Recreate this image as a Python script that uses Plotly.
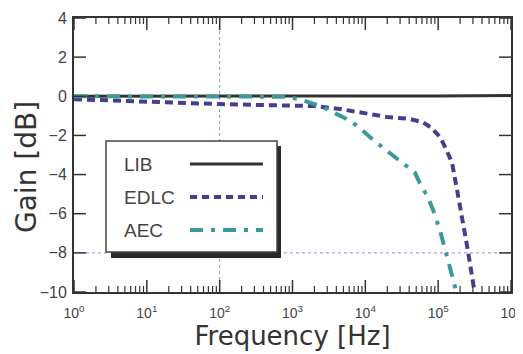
import plotly.graph_objects as go

# ---- data ----
lib_freq = [1, 10, 100, 1000, 10000, 100000, 1000000]
lib_gain = [0.0, 0.0, 0.0, 0.0, 0.0, 0.02, 0.04]

edlc_freq = [1, 3.2, 10, 32, 100, 320, 1000, 2000, 4500, 8500, 2.0e4, 4.0e4,
             6.2e4, 8.0e4, 1.07e5, 1.32e5, 1.55e5, 1.82e5, 2.14e5, 2.51e5, 3.02e5, 3.16e5]
edlc_gain = [-0.15, -0.22, -0.28, -0.33, -0.40, -0.44, -0.46, -0.50, -0.65, -0.82, -1.06, -1.15,
             -1.33, -1.60, -2.10, -2.80, -3.40, -4.80, -6.20, -7.70, -9.55, -10.0]

aec_freq = [1, 10, 100, 316, 800, 1260, 1900, 2630, 4000, 6200, 8900, 1.17e4, 2.0e4, 3.0e4,
            4.0e4, 4.8e4, 5.6e4, 7.1e4, 8.5e4, 1.05e5, 1.26e5, 1.48e5, 1.7e5, 1.78e5]
aec_gain = [0.0, 0.0, 0.0, 0.0, -0.02, -0.15, -0.35, -0.55, -0.90, -1.25, -1.70, -2.10, -2.80, -3.30,
            -3.65, -3.90, -4.45, -5.10, -5.80, -6.80, -7.90, -8.90, -9.75, -10.0]

series_names = ["LIB", "EDLC", "AEC"]
x_tickvals = [1, 10, 100, 1000, 10000, 100000, 1000000]
x_ticktext = ["10<sup>0</sup>", "10<sup>1</sup>", "10<sup>2</sup>", "10<sup>3</sup>",
              "10<sup>4</sup>", "10<sup>5</sup>", "10<sup>6</sup>"]
y_tickvals = [4, 2, 0, -2, -4, -6, -8, -10]

# ---- styles ----
C_LIB = "#333333"
C_EDLC = "#433f8e"
C_AEC = "#3f9898"
GRID = "#8c8ce0"
AX = "#333333"
FONT = "Liberation Sans, Arial, sans-serif"
TFONT = "DejaVu Sans, sans-serif"

# page layout (the figure sits 8px in from the page corner)
OFF = 8
W, H = 523, 354
ml, mt = 74 - OFF, 18 - OFF
mr = W - (511 - OFF)
mb = H - (292 - OFF)
pw, ph = W - ml - mr, H - mt - mb

def px(x):
    return (x - OFF - ml) / pw

def py(y):
    return 1 - (y - OFF - mt) / ph

fig = go.Figure()
fig.add_trace(go.Scatter(x=lib_freq, y=lib_gain, mode="lines", name=series_names[0],
                         line=dict(color=C_LIB, width=3), showlegend=False))
fig.add_trace(go.Scatter(x=edlc_freq, y=edlc_gain, mode="lines", name=series_names[1],
                         line=dict(color=C_EDLC, width=4, dash="8px,5px"), showlegend=False))
fig.add_trace(go.Scatter(x=aec_freq, y=aec_gain, mode="lines", name=series_names[2],
                         line=dict(color=C_AEC, width=4, dash="13px,8px,4px,8px"), showlegend=False))

# dotted reference grid lines (x = 10^2, y = -8)
fig.add_shape(type="line", xref="x", yref="paper", x0=100, x1=100, y0=0, y1=1,
              line=dict(color=GRID, width=1, dash="dot"), layer="below")
fig.add_shape(type="line", xref="paper", yref="y", x0=0, x1=1, y0=-8, y1=-8,
              line=dict(color=GRID, width=1, dash="dot"), layer="below")

# inside tick marks on all four sides (drawn as shapes at the axis tick values)
MAJ, MIN = 12, 6
tick_line = dict(color=AX, width=1.5)
minor_line = dict(color=AX, width=1.2)
for v in x_tickvals:
    fig.add_shape(type="line", xref="x", yref="paper", x0=v, x1=v, y0=0, y1=MAJ / ph,
                  line=tick_line, layer="above")
    fig.add_shape(type="line", xref="x", yref="paper", x0=v, x1=v, y0=1, y1=1 - MAJ / ph,
                  line=tick_line, layer="above")
for v in x_tickvals[:-1]:
    for k in range(2, 10):
        fig.add_shape(type="line", xref="x", yref="paper", x0=v * k, x1=v * k, y0=0, y1=MIN / ph,
                      line=minor_line, layer="above")
        fig.add_shape(type="line", xref="x", yref="paper", x0=v * k, x1=v * k, y0=1, y1=1 - MIN / ph,
                      line=minor_line, layer="above")
for v in y_tickvals:
    fig.add_shape(type="line", xref="paper", yref="y", x0=0, x1=MAJ / pw, y0=v, y1=v,
                  line=tick_line, layer="above")
    fig.add_shape(type="line", xref="paper", yref="y", x0=1, x1=1 - MAJ / pw, y0=v, y1=v,
                  line=tick_line, layer="above")

# custom legend box (text left, line sample right) with drop shadow
L, R, T, B = 106, 277, 141, 252   # page pixel box
fig.add_shape(type="rect", xref="paper", yref="paper",
              x0=px(L + 5), x1=px(R + 4), y0=py(B + 6), y1=py(T + 5),
              fillcolor="#2a2a2a", line=dict(width=0), layer="above")
fig.add_shape(type="rect", xref="paper", yref="paper",
              x0=px(L), x1=px(R), y0=py(B), y1=py(T),
              fillcolor="white", line=dict(color="#444444", width=1.5), layer="above")

leg_rows = [164, 197, 230]
leg_styles = [dict(color=C_LIB, width=3),
              dict(color=C_EDLC, width=4, dash="7px,5px"),
              dict(color=C_AEC, width=4, dash="13px,8px,4px,8px")]
for name, yy, st in zip(series_names, leg_rows, leg_styles):
    fig.add_shape(type="line", xref="paper", yref="paper",
                  x0=px(190), x1=px(263), y0=py(yy), y1=py(yy), line=st, layer="above")
    fig.add_annotation(xref="paper", yref="paper", x=px(122), y=py(yy), text=name,
                       showarrow=False, xanchor="left", yanchor="middle",
                       font=dict(family=FONT, size=19, color="#444444"))

# y-axis title placed as rotated text
fig.add_annotation(xref="paper", yref="paper", x=px(27), y=py(167), text="Gain [dB]",
                   textangle=-90, showarrow=False, xanchor="center", yanchor="middle",
                   font=dict(family=TFONT, size=28, color="#333333"))

fig.update_layout(
    width=W, height=H,
    margin=dict(l=ml, r=mr, t=mt, b=mb, autoexpand=False),
    paper_bgcolor="white", plot_bgcolor="white",
    font=dict(family=FONT, color="#444444"),
    showlegend=False,
)
fig.update_xaxes(
    type="log", range=[0, 6], tickvals=x_tickvals, ticktext=x_ticktext, ticks="",
    showline=True, linecolor=AX, linewidth=2, mirror=True,
    showgrid=False, zeroline=False, automargin=False,
    tickfont=dict(family=FONT, size=14, color="#444444"), ticklabelstandoff=7,
    title=dict(text="Frequency [Hz]", font=dict(family=TFONT, size=26, color="#333333"), standoff=7),
)
fig.update_yaxes(
    range=[-10, 4], tickvals=y_tickvals, ticks="",
    showline=True, linecolor=AX, linewidth=2, mirror=True,
    showgrid=False, zeroline=False, automargin=False,
    tickfont=dict(family=FONT, size=16, color="#444444"), ticklabelstandoff=2,
)

fig.write_html("out.html")
